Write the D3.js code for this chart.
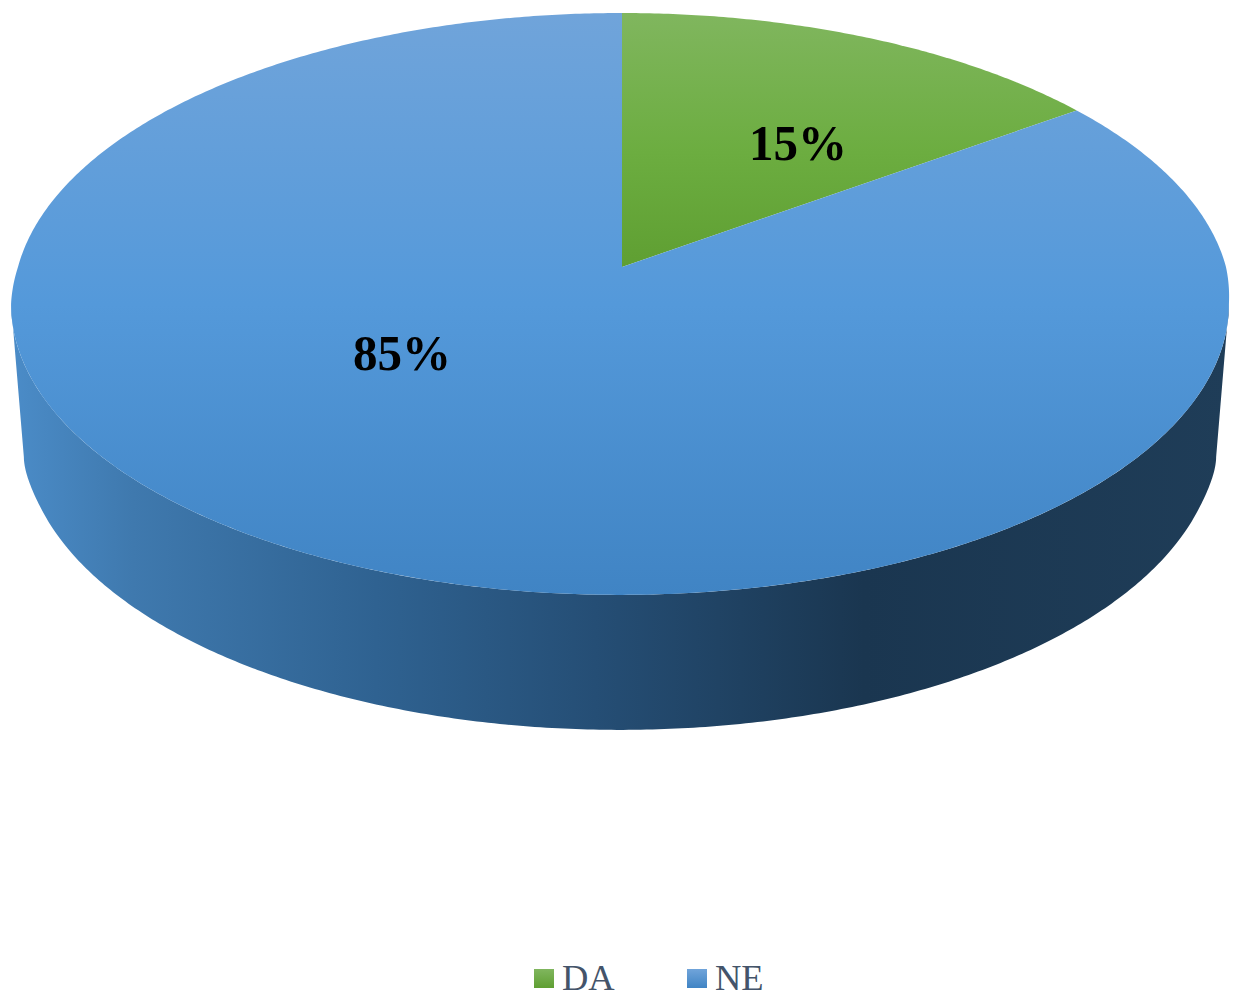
<!DOCTYPE html>
<html>
<head>
<meta charset="utf-8">
<script src="https://cdn.jsdelivr.net/npm/d3@7"></script>
<style>
    html, body { margin: 0; background: #fff; overflow: hidden; }
    text { font-family: "Liberation Serif", serif; }
</style>
</head>
<body>
<svg id="chart" width="1238" height="992"></svg>
<script>
const categories = ['DA', 'NE'];
const values = [15, 85];

const svg = d3.select('#chart');
const defs = svg.append('defs');

// 3D look: a unit circle pushed through a perspective projection
const apexX = 622, apexY = 267;
const radiusX = 604;
const persp = 0.127;
const topA = -252.35;

function project(angle) {
    let u = Math.sin(angle), v = Math.cos(angle);
    let w = 1 + persp * v;
    return [
        apexX + radiusX * u / w - 2 * Math.min(1, Math.max(0, -v * 8)),
        (topA * v + apexY) / w,
    ];
}

// lower rim of the wall, a bit deeper right at the two sides
function projectLow(angle) {
    let [x, y] = project(angle);
    let v = Math.cos(angle);
    let t = Math.max(0, 1 - (-v - persp) / 0.25);
    return [620 + (x - 620) * 0.979, y + 135 + 18 * t * t];
}

function addGradient(id, x1, y1, x2, y2, stops) {
    let g = defs.append('linearGradient')
        .attr('id', id)
        .attr('gradientUnits', 'userSpaceOnUse')
        .attr('x1', x1).attr('y1', y1)
        .attr('x2', x2).attr('y2', y2);
    stops.forEach(([o, c]) => g.append('stop').attr('offset', o).attr('stop-color', c));
}

addGradient('grad-DA', 0, 13, 0, 267, [[0, '#80b65e'], [0.55, '#6cad40'], [1, '#5f9f32']]);
addGradient('grad-NE', 0, 13, 0, 595, [[0, '#70a4da'], [0.5, '#5499da'], [1, '#4084c4']]);
addGradient('grad-wall', 11, 0, 1229, 0, [
    [0, '#4b8cc8'], [0.1, '#3f79ae'], [0.3, '#2f6291'], [0.48, '#254e75'],
    [0.7, '#1a3650'], [1, '#1f3d58'],
]);

const line = d3.line();
const arcs = d3.pie().sort(null).value((d) => d)(values);
const toRad = Math.PI / 180;

function rim(fn, from, to) {
    let n = Math.ceil(Math.abs(to - from) / (0.5 * toRad));
    return d3.range(n + 1).map((i) => fn(from + (to - from) * i / n));
}

// side wall, only the front part of the rim shows
const wallFrom = 97.3 * toRad, wallTo = 262.7 * toRad;
svg.append('path')
    .attr('d', line([...rim(project, wallFrom, wallTo), ...rim(projectLow, wallTo, wallFrom)]) + 'Z')
    .attr('fill', 'url(#grad-wall)');

// top slices
arcs.forEach((a, i) => {
    let pts = [[apexX, apexY], ...rim(project, a.startAngle, a.endAngle)];
    svg.append('path')
        .attr('d', line(pts) + 'Z')
        .attr('fill', `url(#grad-${categories[i]})`);
});

// data labels
const labelPos = [[798, 160], [402, 370]];
svg.selectAll('.label')
    .data(values)
    .join('text')
    .attr('class', 'label')
    .attr('x', (d, i) => labelPos[i][0])
    .attr('y', (d, i) => labelPos[i][1])
    .attr('text-anchor', 'middle')
    .attr('font-size', 50)
    .attr('font-weight', 'bold')
    .attr('textLength', 98)
    .attr('lengthAdjust', 'spacingAndGlyphs')
    .attr('fill', '#000')
    .text((d) => d + '%');

// legend
const legendX = d3.scaleOrdinal().domain(categories).range([534, 687]);
const legend = svg.selectAll('.legend')
    .data(categories)
    .join('g')
    .attr('class', 'legend')
    .attr('transform', (d) => `translate(${legendX(d)},0)`);

addGradient('grad-key-DA', 0, 969, 0, 988, [[0, '#80b65e'], [1, '#5f9f32']]);
addGradient('grad-key-NE', 0, 969, 0, 988, [[0, '#70a4da'], [1, '#4084c4']]);

legend.append('rect')
    .attr('y', 969)
    .attr('width', 20)
    .attr('height', 19)
    .attr('fill', (d) => `url(#grad-key-${d})`);

legend.append('text')
    .attr('x', 28)
    .attr('y', 990)
    .attr('font-size', 36.5)
    .attr('fill', '#44546a')
    .text((d) => d);
</script>
</body>
</html>
